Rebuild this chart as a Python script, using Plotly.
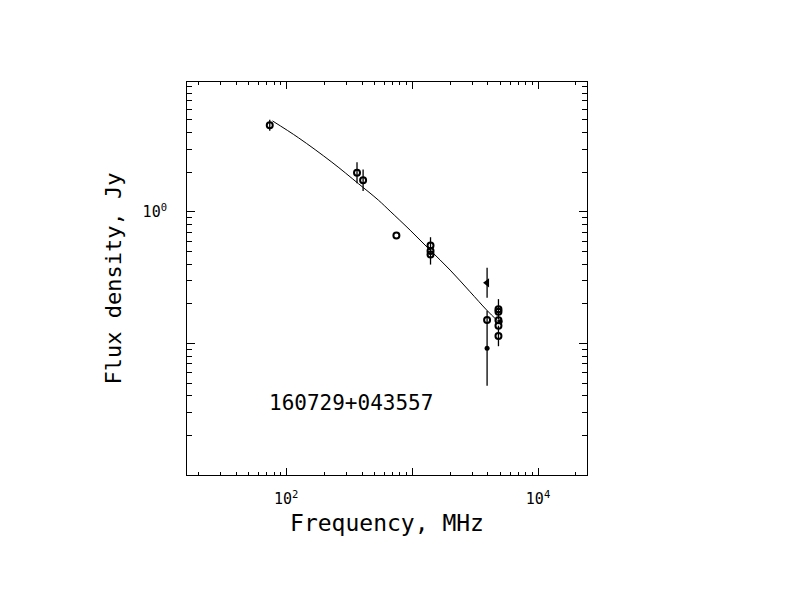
import plotly.graph_objects as go

# ---- data ----
# open circles: frequency (MHz), flux (Jy), error (dex, symmetric in log)
circ_freq = [74, 365, 408, 750, 1400, 1400, 1400, 3940, 4850, 4850, 4850, 4850, 4850]
circ_flux = [4.55, 1.98, 1.74, 0.662, 0.555, 0.505, 0.475, 0.151, 0.1815, 0.174, 0.150, 0.136, 0.114]
circ_err = [0.042, 0.080, 0.082, 0.0, 0.0, 0.104, 0.0, 0.0, 0.078, 0.0, 0.0, 0.0, 0.078]

# left-pointing triangle
tri_freq = [3940]
tri_flux = [0.289]
tri_err = [0.114]

# filled dots
dot_freq = [3940, 5000]
dot_flux = [0.092, 0.146]
dot_err = [0.285, 0.0]

# fitted spectrum curve
fit_freq = [77.8, 125, 230.5, 375, 540, 669, 964, 1390, 2004, 2884, 3916, 4786]
fit_flux = [4.91, 3.66, 2.385, 1.637, 1.227, 1.012, 0.726, 0.512, 0.361, 0.247, 0.179, 0.148]

source_name = "160729+043557"
x_label_vals = [100, 10000]
x_label_text = ["10<sup>2</sup>", "10<sup>4</sup>"]
x_plain_vals = [1000]
y_label_vals = [1]
y_label_text = ["10<sup>0</sup>"]
y_plain_vals = [0.01, 0.1]


def err_plus(flux, dex):
    return [f * (10 ** d - 1) for f, d in zip(flux, dex)]


def err_minus(flux, dex):
    return [f * (1 - 10 ** (-d)) for f, d in zip(flux, dex)]


FONT = "DejaVu Sans Mono"
BLACK = "black"
XR = [1.212, 4.389]
YR = [-2.0, 0.987]

fig = go.Figure()

fig.add_trace(go.Scatter(
    x=fit_freq, y=fit_flux, mode="lines", xaxis="x2", yaxis="y2",
    line=dict(color=BLACK, width=1, shape="spline", smoothing=1.0),
    hoverinfo="skip", showlegend=False))

ebar = dict(type="data", symmetric=False, color=BLACK, thickness=1.3, width=0)

fig.add_trace(go.Scatter(
    x=circ_freq, y=circ_flux, mode="markers",
    marker=dict(symbol="circle-open", size=6, color=BLACK, line=dict(width=2, color=BLACK)),
    error_y=dict(ebar, array=err_plus(circ_flux, circ_err), arrayminus=err_minus(circ_flux, circ_err)),
    showlegend=False))

fig.add_trace(go.Scatter(
    x=tri_freq, y=tri_flux, mode="markers",
    marker=dict(symbol="triangle-left", size=8, color=BLACK),
    error_y=dict(ebar, array=err_plus(tri_flux, tri_err), arrayminus=err_minus(tri_flux, tri_err)),
    showlegend=False))

fig.add_trace(go.Scatter(
    x=dot_freq, y=dot_flux, mode="markers",
    marker=dict(symbol="circle", size=5, color=BLACK),
    error_y=dict(ebar, array=err_plus(dot_flux, dot_err), arrayminus=err_minus(dot_flux, dot_err)),
    showlegend=False))

x_minor = [m * 10 ** k for k in range(1, 5) for m in range(2, 10)]
y_minor = [m * 10.0 ** k for k in range(-2, 1) for m in range(2, 10)]

common = dict(showline=True, linecolor=BLACK, linewidth=1, mirror="allticks",
              showgrid=False, zeroline=False, ticks="inside", tickwidth=1, tickcolor=BLACK)

fig.update_layout(
    xaxis=dict(
        common, type="log", range=XR,
        tickmode="array", tickvals=x_label_vals, ticktext=x_label_text,
        ticklen=7, ticklabelstandoff=10,
        tickfont=dict(family=FONT, size=15, color=BLACK),
        minor=dict(tickmode="array", tickvals=x_minor, ticks="inside", ticklen=3,
                   tickwidth=1, tickcolor=BLACK, showgrid=False),
        title=dict(text="Frequency, MHz", font=dict(family=FONT, size=23, color=BLACK), standoff=7),
    ),
    yaxis=dict(
        common, type="log", range=YR,
        tickmode="array", tickvals=y_label_vals, ticktext=y_label_text,
        ticklen=8, ticklabelstandoff=16,
        tickfont=dict(family=FONT, size=15, color=BLACK),
        minor=dict(tickmode="array", tickvals=y_minor, ticks="inside", ticklen=5,
                   tickwidth=1, tickcolor=BLACK, showgrid=False),
        title=dict(text="Flux density, Jy", font=dict(family=FONT, size=22, color=BLACK), standoff=14),
    ),
    xaxis2=dict(
        common, type="log", range=XR, overlaying="x", anchor="y2", side="bottom",
        tickmode="array", tickvals=x_plain_vals, ticklen=7, showticklabels=False,
    ),
    yaxis2=dict(
        common, type="log", range=YR, overlaying="y", anchor="x2", side="left",
        tickmode="array", tickvals=y_plain_vals, ticklen=8, showticklabels=False,
    ),
)

fig.add_annotation(
    text=source_name, xref="paper", yref="paper", x=0.199, y=0.183,
    xanchor="left", yanchor="middle", showarrow=False,
    font=dict(family=FONT, size=21, color=BLACK))

fig.update_layout(
    width=792, height=612, autosize=False,
    margin=dict(l=179, r=213, t=74, b=145),
    paper_bgcolor="white", plot_bgcolor="white",
    font=dict(family=FONT, color=BLACK),
)

fig.write_html("out.html")
